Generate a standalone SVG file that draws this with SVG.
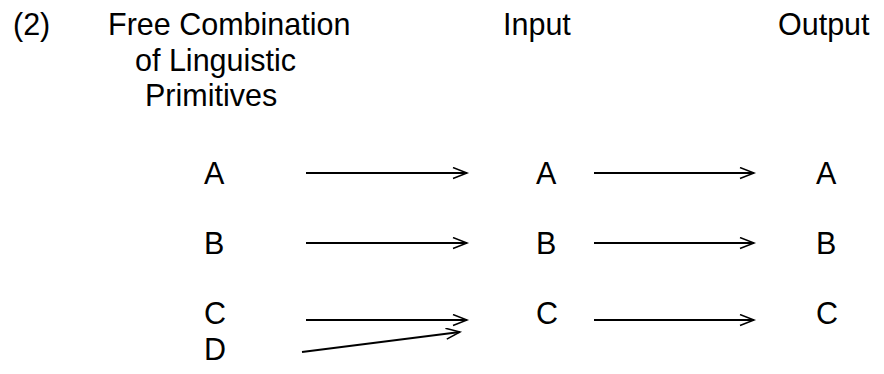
<svg xmlns="http://www.w3.org/2000/svg" width="884" height="374" viewBox="0 0 884 374">
  <style>
    text { font-family: "Liberation Sans", Arial, sans-serif; font-size: 30.5px; fill: #000; }
    .conn line { stroke: #000; stroke-width: 2; fill: none; }
  </style>
  <defs>
    <marker id="open" markerUnits="userSpaceOnUse" markerWidth="18" markerHeight="14" refX="15" refY="6" orient="auto">
      <path d="M1,0.5 L15,6 L1,11.5" fill="none" stroke="#000" stroke-width="1.5"/>
    </marker>
  </defs>
  <rect width="884" height="374" fill="#fff"/>

  <g id="number"><text x="13" y="35">(2)</text></g>
  <g id="header-free">
    <text x="108" y="35">Free Combination</text>
    <text x="135" y="71">of Linguistic</text>
    <text x="145" y="106">Primitives</text>
  </g>
  <g id="header-input"><text x="503" y="35">Input</text></g>
  <g id="header-output"><text x="778" y="35">Output</text></g>

  <g id="src-A"><text x="204" y="184">A</text></g>
  <g id="src-B"><text x="204" y="254">B</text></g>
  <g id="src-C"><text x="204" y="324">C</text></g>
  <g id="src-D"><text x="204" y="360">D</text></g>

  <g id="in-A"><text x="536" y="184">A</text></g>
  <g id="in-B"><text x="536" y="254">B</text></g>
  <g id="in-C"><text x="536" y="324">C</text></g>

  <g id="out-A"><text x="816" y="184">A</text></g>
  <g id="out-B"><text x="816" y="254">B</text></g>
  <g id="out-C"><text x="816" y="324">C</text></g>

  <g id="connectors" class="conn">
    <line x1="306" y1="173" x2="467" y2="173" marker-end="url(#open)"/>
    <line x1="306" y1="243" x2="467" y2="243" marker-end="url(#open)"/>
    <line x1="306" y1="320" x2="467" y2="320" marker-end="url(#open)"/>
    <line x1="302" y1="352" x2="460" y2="332" marker-end="url(#open)"/>
    <line x1="594" y1="173" x2="754" y2="173" marker-end="url(#open)"/>
    <line x1="594" y1="243" x2="754" y2="243" marker-end="url(#open)"/>
    <line x1="594" y1="320" x2="754" y2="320" marker-end="url(#open)"/>
  </g>
</svg>
